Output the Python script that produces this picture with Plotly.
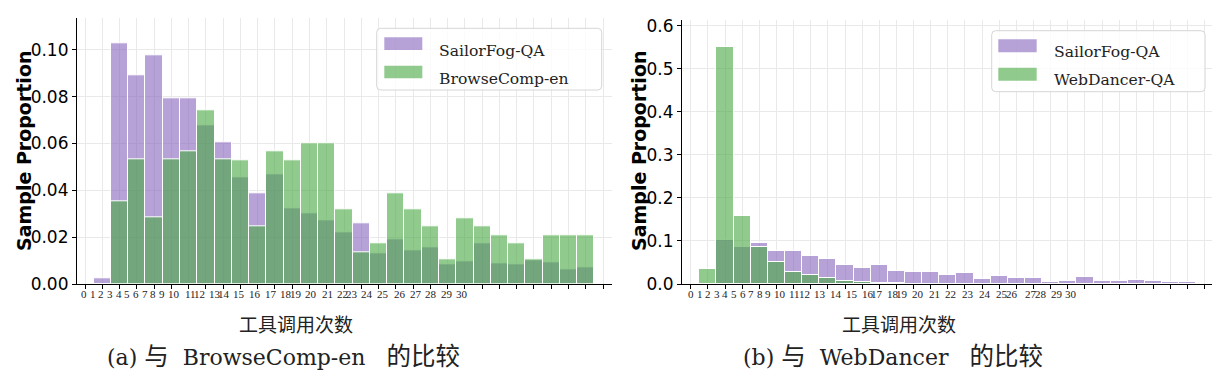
import plotly.graph_objects as go

# ---------------- data ----------------
bins = list(range(1, 30))  # tool-call bins (bar positions)

sailorfog_a = [0.0026, 0.1028, 0.0890, 0.0976, 0.0795, 0.0792, 0.0679, 0.0604, 0.0454, 0.0389,
               0.0469, 0.0322, 0.0302, 0.0274, 0.0219, 0.0258, 0.0131, 0.0189, 0.0145, 0.0155,
               0.0083, 0.0095, 0.0174, 0.0088, 0.0085, 0.0100, 0.0093, 0.0063, 0.0070]
browsecomp = [0.0, 0.0353, 0.0531, 0.0283, 0.0531, 0.0567, 0.0744, 0.0531, 0.0530, 0.0246,
              0.0566, 0.0530, 0.0600, 0.0600, 0.0318, 0.0137, 0.0174, 0.0389, 0.0318, 0.0245,
              0.0104, 0.0281, 0.0245, 0.0209, 0.0174, 0.0104, 0.0209, 0.0209, 0.0209]

sailorfog_b = [0.0, 0.1015, 0.086, 0.096, 0.077, 0.077, 0.065, 0.058, 0.043, 0.037,
               0.045, 0.031, 0.0285, 0.027, 0.020, 0.0246, 0.0108, 0.0177, 0.013, 0.0138,
               0.0054, 0.0077, 0.016, 0.007, 0.007, 0.0085, 0.0077, 0.0046, 0.0054]
webdancer = [0.036, 0.551, 0.158, 0.086, 0.050, 0.0285, 0.020, 0.013, 0.0077, 0.005,
             0.003, 0.0015, 0.001, 0.0008, 0.0005, 0.0, 0.0, 0.0, 0.0, 0.0,
             0.0, 0.0, 0.0, 0.0, 0.0, 0.0, 0.0, 0.0, 0.0]

tick_positions = list(range(0, 31))
tick_labels = [str(i) for i in range(0, 31)]
yticks_a = [0.0, 0.02, 0.04, 0.06, 0.08, 0.10]
yticks_b = [0.0, 0.1, 0.2, 0.3, 0.4, 0.5, 0.6]

names = ["SailorFog-QA", "BrowseComp-en", "WebDancer-QA"]
x_title = "工具调用次数"
y_title = "Sample Proportion"

# ---------------- layout helpers ----------------
# the html page body has an 8px margin, so the figure is drawn 8px smaller
# and every page-pixel position is shifted by that offset
OFF = 8
W, H = 1220 - OFF, 372 - OFF
def px(x):
    return (x - OFF) / W
def py(y):
    return 1 - (y - OFF) / H

# page-pixel x centres of the (irregularly placed) tick-label text
label_px_a = [84, 92.7, 101.3, 110, 118.7, 127.3, 136, 144.7, 153.3, 162,
              174.3, 190, 199.5, 214.7, 224, 239.3, 255, 270.7, 286.3, 295.8,
              311, 327, 342.5, 352, 367, 383, 399.5, 415.5, 431, 446.5, 461.5]
label_px_b = [691, 699.6, 708.2, 716.8, 725.4, 734, 742.6, 751.2, 759.8, 768.4,
              779.5, 795, 804.5, 819.5, 835.8, 852, 867.5, 877, 893, 902.5,
              918, 934, 951, 968, 985, 1002, 1011.5, 1031, 1040.5, 1057, 1071]

PURPLE = "rgba(135,100,190,0.6)"
GREEN = "rgba(70,168,65,0.6)"
GRID = "#e9e9e9"
TEXT = "#222222"

fig = go.Figure()
bar_line = dict(color="white", width=1)
fig.add_trace(go.Bar(x=bins, y=sailorfog_a, width=1, marker=dict(color=PURPLE, line=bar_line),
                     xaxis="x", yaxis="y", showlegend=False, name=names[0]))
fig.add_trace(go.Bar(x=bins, y=browsecomp, width=1, marker=dict(color=GREEN, line=bar_line),
                     xaxis="x", yaxis="y", showlegend=False, name=names[1]))
fig.add_trace(go.Bar(x=bins, y=sailorfog_b, width=1, marker=dict(color=PURPLE, line=bar_line),
                     xaxis="x2", yaxis="y2", showlegend=False, name=names[0]))
fig.add_trace(go.Bar(x=bins, y=webdancer, width=1, marker=dict(color=GREEN, line=bar_line),
                     xaxis="x2", yaxis="y2", showlegend=False, name=names[2]))

xa_common = dict(tickmode="array", tickvals=tick_positions, showticklabels=False,
                 ticks="outside", ticklen=4, tickwidth=1, tickcolor="black",
                 showline=True, linecolor="black", linewidth=1.2, showgrid=True,
                 gridcolor=GRID, gridwidth=1, zeroline=False)
ya_common = dict(ticks="outside", ticklen=4, tickwidth=1, tickcolor="black",
                 showline=True, linecolor="black", linewidth=1.2, showgrid=True,
                 gridcolor=GRID, gridwidth=1, zeroline=False,
                 tickfont=dict(family="DejaVu Sans", size=17, color="black"))

fig.update_layout(
    width=W, height=H, margin=dict(l=0, r=0, t=0, b=0, autoexpand=False),
    paper_bgcolor="white", plot_bgcolor="white", barmode="overlay", bargap=0,
    showlegend=False,
    xaxis=dict(domain=[px(77), px(611.7)], range=[-0.463, 30.5], anchor="y", **xa_common),
    yaxis=dict(domain=[py(284), py(18.3)], range=[0, 0.1135], anchor="x",
               tickvals=yticks_a, tickformat=".2f", **ya_common),
    xaxis2=dict(domain=[px(682), px(1213)], range=[-0.51, 30.47], anchor="y2", **xa_common),
    yaxis2=dict(domain=[py(284), py(20)], range=[0, 0.613], anchor="x2",
                tickvals=yticks_b, tickformat=".1f", **ya_common),
)

ann = []
# tick label text
for labels_px in (label_px_a, label_px_b):
    for lab, xp in zip(tick_labels, labels_px):
        ann.append(dict(text=lab, x=px(xp), y=py(294), xref="paper", yref="paper",
                        showarrow=False, xanchor="center", yanchor="middle",
                        font=dict(family="Liberation Serif", size=11, color=TEXT)))
# axis titles
for xc in (24, 639):
    ann.append(dict(text="<b>" + y_title + "</b>", x=px(xc), y=py(151), xref="paper", yref="paper",
                    textangle=-90, showarrow=False, xanchor="center", yanchor="middle",
                    font=dict(family="DejaVu Sans", size=19, color="black")))
for xc in (296, 899):
    ann.append(dict(text=x_title, x=px(xc), y=py(323), xref="paper", yref="paper",
                    showarrow=False, xanchor="center", yanchor="middle",
                    font=dict(family="Noto Sans CJK SC", size=19, color=TEXT)))
# captions
cjk = '<span style="font-family:Noto Sans CJK SC;font-size:24.5px">'
sp = "\u00a0"
cap_a = "(a) " + cjk + "与</span>" + sp * 2 + "BrowseComp-en" + sp * 3 + cjk + "的比较</span>"
cap_b = "(b) " + cjk + "与</span>" + sp * 2 + "WebDancer" + sp * 3 + cjk + "的比较</span>"
for cap, xc in ((cap_a, 283), (cap_b, 893)):
    ann.append(dict(text=cap, x=px(xc), y=py(354), xref="paper", yref="paper",
                    showarrow=False, xanchor="center", yanchor="middle",
                    font=dict(family="DejaVu Serif", size=22, color=TEXT)))


def rounded_box(x0, y0, x1, y1, r):
    pts = [
        f"M{px(x0 + r)},{py(y0)}", f"L{px(x1 - r)},{py(y0)}", f"Q{px(x1)},{py(y0)} {px(x1)},{py(y0 + r)}",
        f"L{px(x1)},{py(y1 - r)}", f"Q{px(x1)},{py(y1)} {px(x1 - r)},{py(y1)}",
        f"L{px(x0 + r)},{py(y1)}", f"Q{px(x0)},{py(y1)} {px(x0)},{py(y1 - r)}",
        f"L{px(x0)},{py(y0 + r)}", f"Q{px(x0)},{py(y0)} {px(x0 + r)},{py(y0)}", "Z",
    ]
    return " ".join(pts)


# legends (drawn by hand: box, swatches, labels)
shapes = []
legends = [
    dict(box=(376.7, 28.3, 601.7, 90), sw=(384.3, 422.3), rows=[(37.3, 50, 51), (65.7, 78.3, 79)],
         text_x=437.3, labels=[names[0], names[1]]),
    dict(box=(991.7, 30.7, 1205, 91.7), sw=(998.3, 1036.7), rows=[(39.3, 52.3, 52), (67.7, 80.7, 80)],
         text_x=1051.7, labels=[names[0], names[2]]),
]
for lg in legends:
    x0, y0, x1, y1 = lg["box"]
    shapes.append(dict(type="path", xref="paper", yref="paper", path=rounded_box(x0, y0, x1, y1, 4),
                       line=dict(color="#d6d6d6", width=1), fillcolor="rgba(255,255,255,0.8)", layer="above"))
    for (sy0, sy1, ty), lab, col in zip(lg["rows"], lg["labels"], (PURPLE, GREEN)):
        shapes.append(dict(type="rect", xref="paper", yref="paper", x0=px(lg["sw"][0]), x1=px(lg["sw"][1]),
                           y0=py(sy1), y1=py(sy0), line=dict(width=0), fillcolor=col, layer="above"))
        ann.append(dict(text=lab, x=px(lg["text_x"]), y=py(ty), xref="paper", yref="paper",
                        showarrow=False, xanchor="left", yanchor="middle",
                        font=dict(family="DejaVu Serif", size=15.6, color=TEXT)))

fig.update_layout(annotations=ann, shapes=shapes)
fig.write_html("out.html")
